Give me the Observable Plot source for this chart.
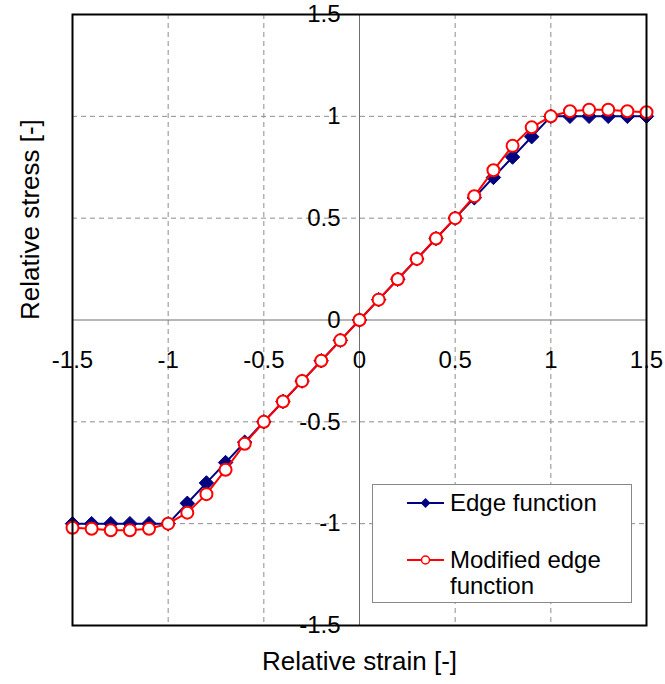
<!DOCTYPE html>
<html><head><meta charset="utf-8">
<script src="https://cdn.jsdelivr.net/npm/d3@7"></script>
<script src="https://cdn.jsdelivr.net/npm/@observablehq/plot@0.6"></script>
<style>
body{margin:0;background:#fff;font-family:"Liberation Sans",Arial,sans-serif}
#wrap{position:relative;width:665px;height:684px}
#legend{position:absolute;left:372px;top:484px;width:258px;height:117px;border:1px solid #888;background:#fff}
</style></head><body><div id="wrap"></div>
<script>
const strain = [-1.5,-1.4,-1.3,-1.2,-1.1,-1.0,-0.9,-0.8,-0.7,-0.6,-0.5,-0.4,-0.3,-0.2,-0.1,0,0.1,0.2,0.3,0.4,0.5,0.6,0.7,0.8,0.9,1.0,1.1,1.2,1.3,1.4,1.5];
const edgeStress = [-1,-1,-1,-1,-1,-1,-0.9,-0.8,-0.7,-0.6,-0.5,-0.4,-0.3,-0.2,-0.1,0,0.1,0.2,0.3,0.4,0.5,0.6,0.7,0.8,0.9,1,1,1,1,1,1];
const modifiedStress = [-1.02,-1.025,-1.032,-1.032,-1.025,-1.0,-0.946,-0.855,-0.735,-0.608,-0.5,-0.4,-0.3,-0.2,-0.1,0,0.1,0.2,0.3,0.4,0.5,0.608,0.735,0.855,0.946,1.0,1.025,1.032,1.032,1.025,1.02];
const tickValues = [-1.5,-1,-0.5,0,0.5,1,1.5];
const tickLabels = ["-1.5","-1","-0.5","0","0.5","1","1.5"];
const gridValues = [-1,-0.5,0.5,1];
const seriesNames = ["Edge function","Modified edge function"];
const xTitle = "Relative strain [-]";
const yTitle = "Relative stress [-]";

const edge = strain.map((x,i)=>({x, y: edgeStress[i]}));
const modified = strain.map((x,i)=>({x, y: modifiedStress[i]}));
const ticks = tickValues.map((v,i)=>({v, label: tickLabels[i]}));
const FONT = '"Liberation Sans", Arial, sans-serif';
const NAVY = "#000080", RED = "#ff0000";

const plot = Plot.plot({
  width: 665, height: 684,
  marginLeft: 72, marginRight: 19, marginTop: 14, marginBottom: 59,
  x: {domain: [-1.5, 1.5], axis: null},
  y: {domain: [-1.5, 1.5], axis: null},
  style: {fontFamily: FONT, background: "white", color: "black", overflow: "visible"},
  marks: [
    Plot.ruleX(gridValues, {stroke: "#8c8c8c", strokeDasharray: "5,4", strokeWidth: 1}),
    Plot.ruleY(gridValues, {stroke: "#8c8c8c", strokeDasharray: "5,4", strokeWidth: 1}),
    Plot.ruleX([0], {stroke: "#6e6e6e", strokeWidth: 1}),
    Plot.ruleY([0], {stroke: "#6e6e6e", strokeWidth: 1}),
    Plot.line(edge, {x: "x", y: "y", stroke: NAVY, strokeWidth: 2}),
    Plot.dot(edge, {x: "x", y: "y", symbol: "diamond2", fill: NAVY, stroke: NAVY, strokeWidth: 1, r: 6.5}),
    Plot.line(modified, {x: "x", y: "y", stroke: RED, strokeWidth: 2}),
    Plot.dot(modified, {x: "x", y: "y", symbol: "circle", fill: "white", stroke: RED, strokeWidth: 2, r: 6}),
    Plot.frame({stroke: "black", strokeWidth: 2}),
    Plot.text(ticks, {x: "v", y: () => 0, dy: 40, text: "label", fontSize: 24, fill: "black"}),
    Plot.text(ticks, {x: () => 0, y: "v", dx: -19, textAnchor: "end", text: "label", fontSize: 24, fill: "black"}),
    Plot.text([xTitle], {frameAnchor: "bottom", dy: 44, text: d => d, fontSize: 26, fill: "black"}),
    Plot.text([yTitle], {frameAnchor: "left", dx: -42, rotate: -90, text: d => d, fontSize: 26, fill: "black"})
  ]
});
const wrap = document.getElementById("wrap");
wrap.appendChild(plot);

const legend = document.createElement("div");
legend.id = "legend";
legend.innerHTML = `<svg width="258" height="117" style="font-family:${FONT}">
  <line x1="34" x2="71" y1="18" y2="18" stroke="${NAVY}" stroke-width="2"/>
  <path d="M52.5,13 L57.5,18 L52.5,23 L47.5,18 Z" fill="${NAVY}"/>
  <text x="77" y="18" dy="0.35em" font-size="24" fill="black">${seriesNames[0]}</text>
  <line x1="34" x2="71" y1="75" y2="75" stroke="${RED}" stroke-width="2"/>
  <circle cx="52.5" cy="75" r="4" fill="white" stroke="${RED}" stroke-width="1.5"/>
  <text x="77" y="75" dy="0.35em" font-size="24" fill="black">Modified edge</text>
  <text x="77" y="101" dy="0.35em" font-size="24" fill="black">function</text>
</svg>`;
wrap.appendChild(legend);
</script>
</body></html>
